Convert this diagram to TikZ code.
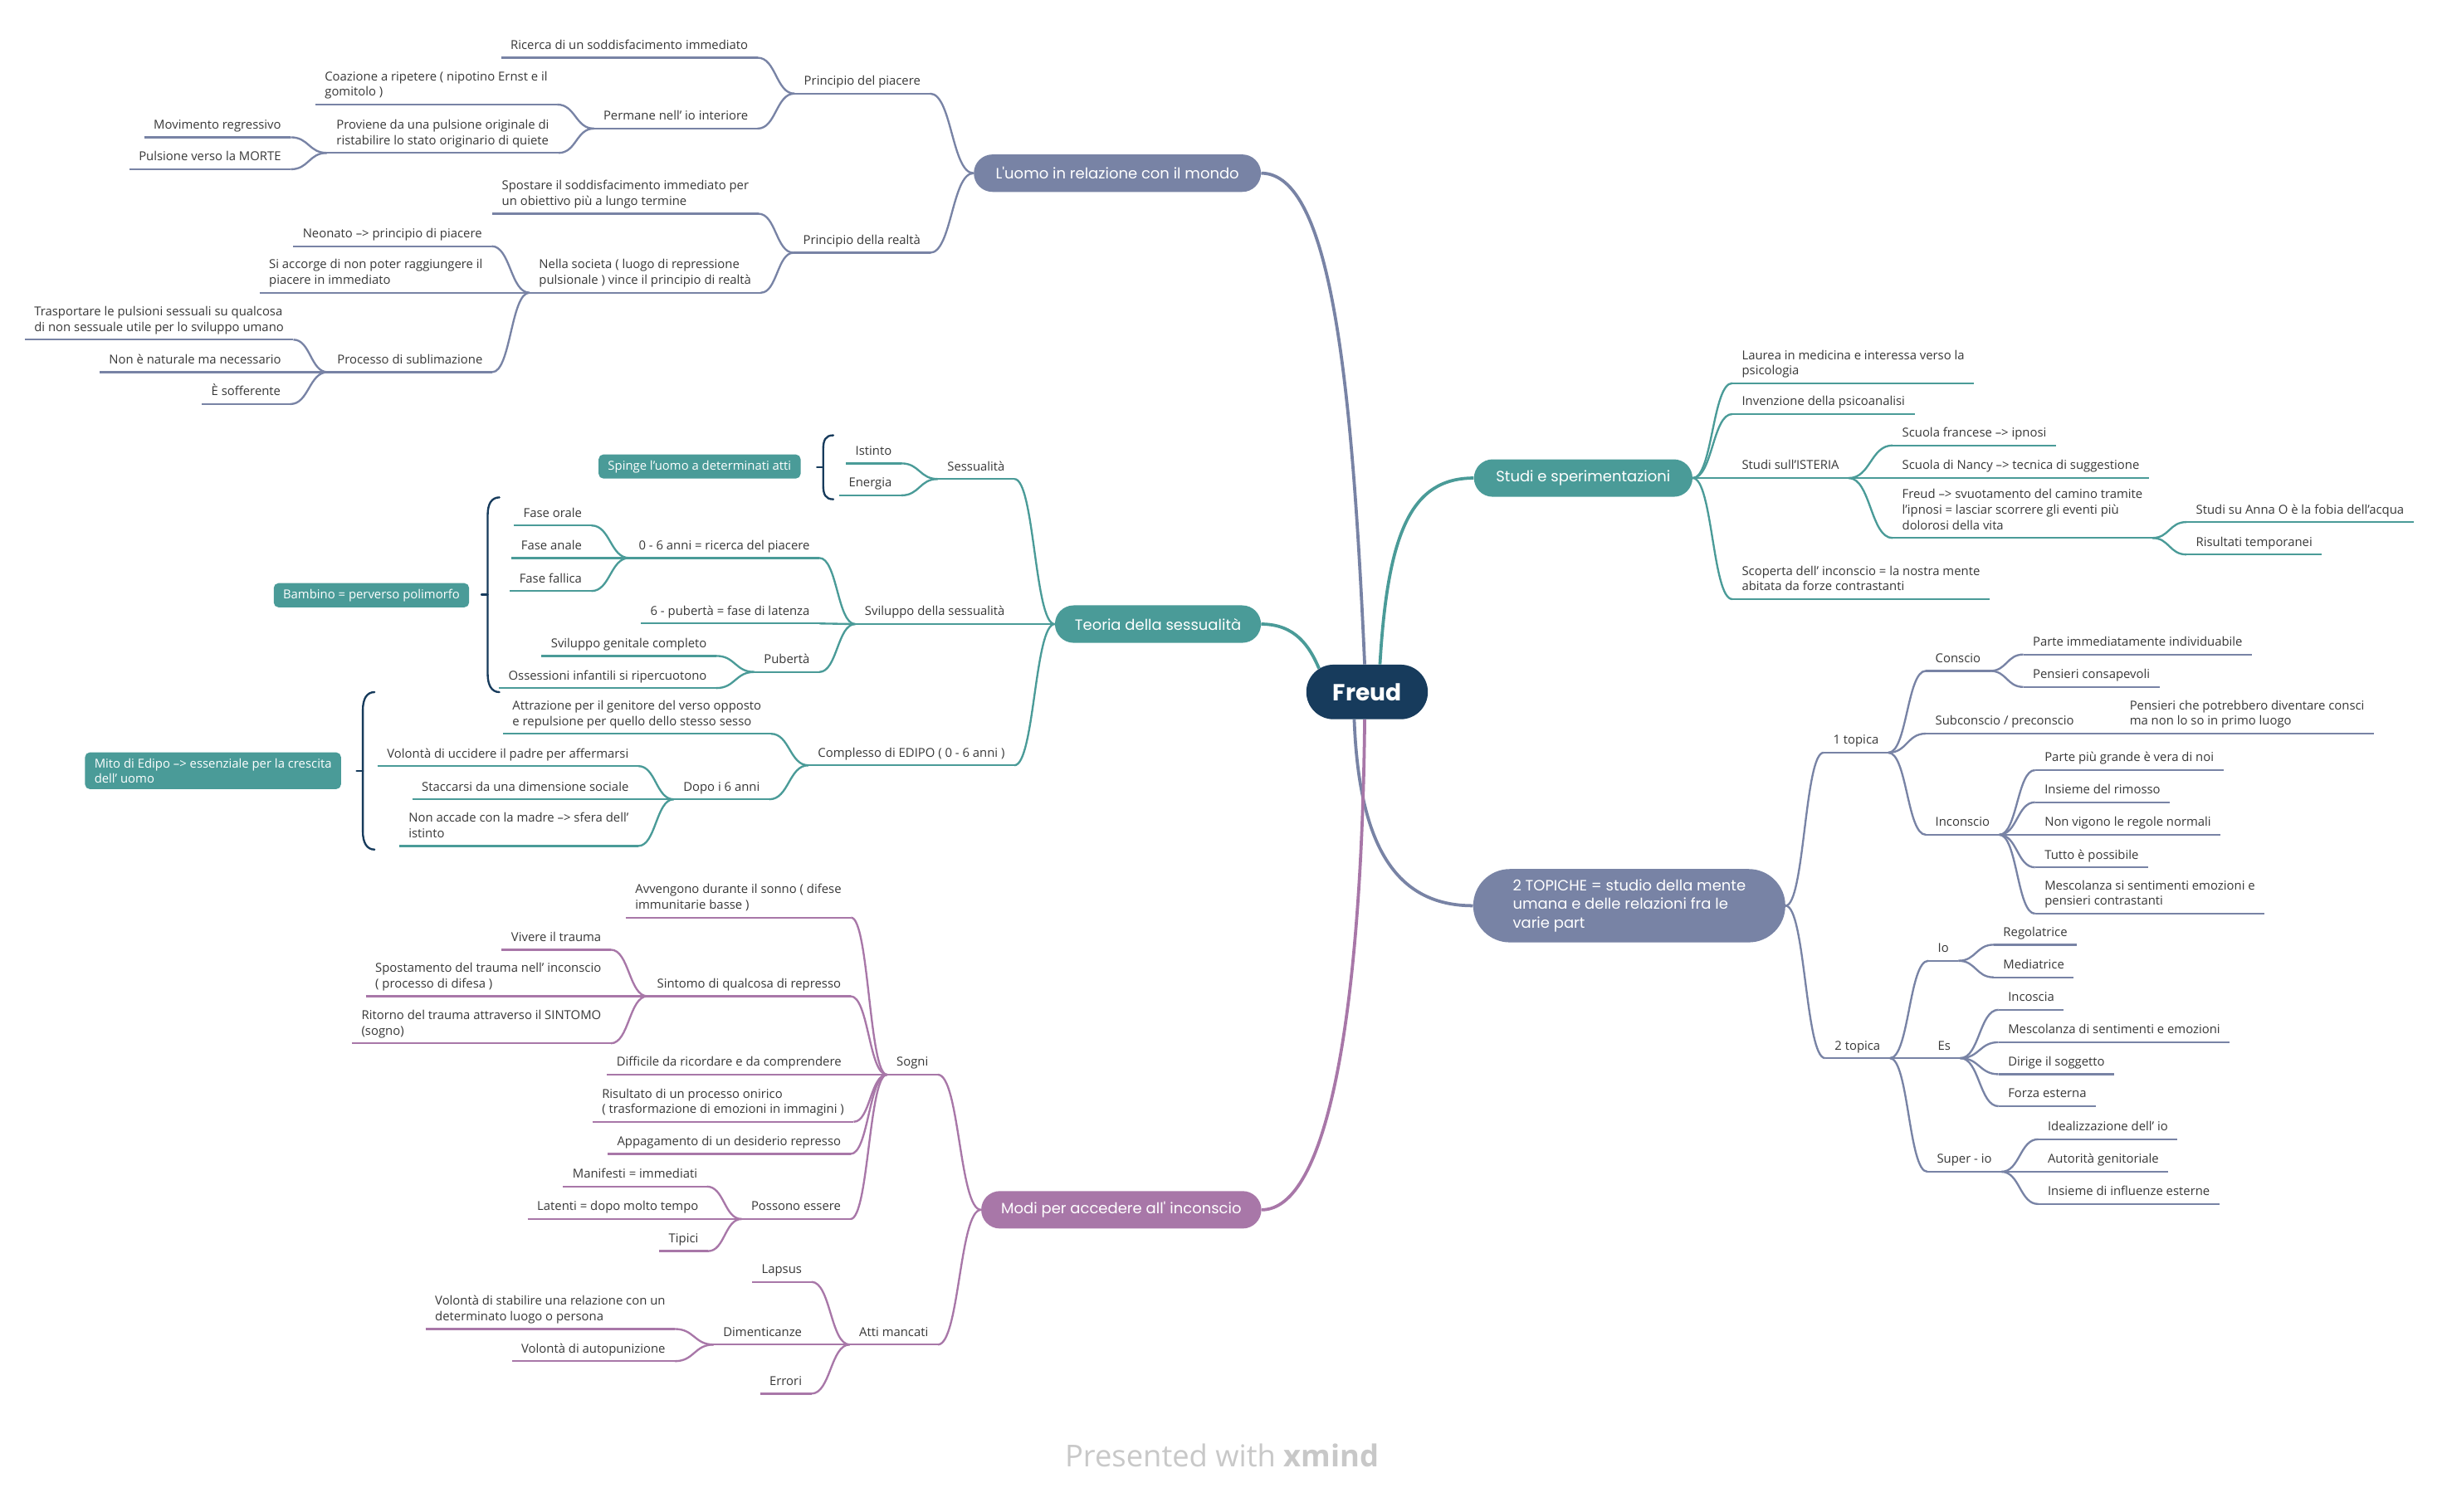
\documentclass[tikz,border=0pt]{standalone}
\usepackage{fontspec}
\setmainfont{Open Sans}
\newfontfamily\topicfamily{Poppins}
\usepackage{tikz}
\usetikzlibrary{calc}
\usetikzlibrary{shapes.misc}
\usetikzlibrary{positioning}

\definecolor{freudblue}{HTML}{173B5C}
\definecolor{greyblue}{HTML}{7883A5}
\definecolor{sea}{HTML}{4A9B98}
\definecolor{mauve}{HTML}{A877A8}
\definecolor{ink}{HTML}{383838}
\definecolor{stamp}{HTML}{C8C8C8}

\newcommand{\leaffont}{\fontsize{9}{11.3}\selectfont}
\newcommand{\topicfont}{\topicfamily\fontsize{10.9}{13.6}\selectfont}

\begin{document}
\begin{tikzpicture}
        [ x=0.4mm, y=-0.4mm
        , branch/.style={to path={let \p1=(\tikztostart), \p2=(\tikztotarget) in
              .. controls ({(\x1+\x2)/2},\y1) and ({(\x1+\x2)/2},\y2) .. (\tikztotarget)}}
        , leaf/.style={font=\leaffont, text=ink, align=left, inner xsep=2.4mm, inner ysep=3.7pt, text depth=2.2pt}
        , lleaf/.style={leaf, anchor=south east}
        , rleaf/.style={leaf, anchor=south west}
        , topic/.style={rounded rectangle, fill=#1, text=white, font=\topicfont, inner xsep=0pt, minimum height=9.6mm}
        , tagbox/.style={rectangle, rounded corners=1.2mm, fill=sea, text=white, font=\leaffont, align=left, inner xsep=2.4mm, inner ysep=1.5mm}
        , twig/.style={draw=#1, line width=0.5mm}
        , bough/.style={draw=#1, line width=0.8mm}
        , bracketline/.style={draw=freudblue, line width=0.5mm, line cap=round}
        ]
        \fill[white] (0,0) rectangle (1568,969);
        \useasboundingbox (0,0) rectangle (1568,969);

        \node[rounded rectangle, fill=freudblue, text=white, font=\topicfamily\bfseries\fontsize{17}{20}\selectfont, minimum width=33.5mm, minimum height=14mm] (freud) at (876,443.5) {Freud};
        \node[topic=greyblue, minimum width=73.6mm] (uomo) at (716,111) {L'uomo in relazione con il mondo};
        \node[topic=sea, minimum width=56mm] (studi) at (1014.5,306.4) {Studi e sperimentazioni};
        \node[topic=sea, minimum width=52.8mm] (teoria) at (742,400) {Teoria della sessualità};
        \node[topic=greyblue, minimum width=80mm, minimum height=18.8mm, align=left] (topiche) at (1044,580.5) {2 TOPICHE = studio della mente\\umana e delle relazioni fra le\\varie part};
        \node[topic=mauve, minimum width=71.8mm] (modi) at (718.5,775.4) {Modi per accedere all' inconscio};

        \draw[bough=greyblue] (uomo.east) .. controls +(45,0) and +(-8,-180) .. (freud.95);
        \draw[bough=sea] (teoria.east) .. controls +(22,0) and +(-6,-14) .. (freud.154);
        \draw[bough=sea] (freud.65) .. controls +(5,-85) and +(-40,0) .. (studi.west);
        \draw[bough=greyblue] (freud.245) .. controls +(3,80) and +(-50,0) .. (topiche.west);
        \draw[bough=mauve] (freud.265) .. controls +(-2,190) and +(42,0) .. (modi.east);

        \node[lleaf] (pp) at (596,60) {Principio del piacere};
        \node[lleaf] (ric) at (485.5,37) {Ricerca di un soddisfacimento immediato};
        \node[lleaf] (perm) at (485.5,82.4) {Permane nell' io interiore};
        \node[lleaf] (coaz) at (357,67) {Coazione a ripetere ( nipotino Ernst e il\\gomitolo )};
        \node[lleaf] (prov) at (358,98) {Proviene da una pulsione originale di\\ristabilire lo stato originario di quiete};
        \node[lleaf] (mov) at (186.3,88) {Movimento regressivo};
        \node[lleaf] (morte) at (186.3,108.5) {Pulsione verso la MORTE};
        \node[lleaf] (pr) at (596,162) {Principio della realtà};
        \node[lleaf] (spost) at (486,137) {Spostare il soddisfacimento immediato per\\un obiettivo più a lungo termine};
        \node[lleaf] (soc) at (487.5,187.6) {Nella societa ( luogo di repressione\\pulsionale ) vince il principio di realtà};
        \node[lleaf] (neo) at (315,157.8) {Neonato --> principio di piacere};
        \node[lleaf] (acc) at (315.4,187.6) {Si accorge di non poter raggiungere il\\piacere in immediato};
        \node[lleaf] (sub) at (315.4,238.5) {Processo di sublimazione};
        \node[lleaf] (tras) at (188,217.7) {Trasportare le pulsioni sessuali su qualcosa\\di non sessuale utile per lo sviluppo umano};
        \node[lleaf] (nat) at (186.3,238.5) {Non è naturale ma necessario};
        \node[lleaf] (soff) at (186,259) {È sofferente};

        \foreach \n in {pp,ric,perm,coaz,prov,mov,morte,pr,spost,soc,neo,acc,sub,tras,nat,soff}
            \draw[twig=greyblue] (\n.south west) -- (\n.south east);
        \draw[twig=greyblue] (uomo.west) to[branch] (pp.south east);
        \draw[twig=greyblue] (uomo.west) to[branch] (pr.south east);
        \foreach \a/\b in {pp/ric, pp/perm, perm/coaz, perm/prov, prov/mov, prov/morte,
                           pr/spost, pr/soc, soc/neo, soc/acc, soc/sub, sub/tras, sub/nat, sub/soff}
            \draw[twig=greyblue] (\a.south west) to[branch] (\b.south east);

        \node[lleaf] (sess) at (650,307) {Sessualità};
        \node[lleaf] (ist) at (577.6,297) {Istinto};
        \node[lleaf] (ener) at (577.6,317.5) {Energia};
        \node[lleaf] (svil) at (650,400) {Sviluppo della sessualità};
        \node[lleaf] (zero) at (525,357.6) {0 - 6 anni = ricerca del piacere};
        \node[lleaf] (orale) at (379,336.8) {Fase orale};
        \node[lleaf] (anale) at (379,357.6) {Fase anale};
        \node[lleaf] (fallica) at (379,378.8) {Fase fallica};
        \node[lleaf] (lat) at (525,399.6) {6 - pubertà = fase di latenza};
        \node[lleaf] (pub) at (525,430.7) {Pubertà};
        \node[lleaf] (gen) at (459,420.4) {Sviluppo genitale completo};
        \node[lleaf] (oss) at (459,441) {Ossessioni infantili si ripercuotono};
        \node[lleaf] (edipo) at (650,490.5) {Complesso di EDIPO ( 0 - 6 anni )};
        \node[lleaf] (attr) at (494,470.3) {Attrazione per il genitore del verso opposto\\e repulsione per quello dello stesso sesso};
        \node[lleaf] (dopo) at (493,512.3) {Dopo i 6 anni};
        \node[lleaf] (uccid) at (409,491) {Volontà di uccidere il padre per affermarsi};
        \node[lleaf] (stacc) at (409,512.3) {Staccarsi da una dimensione sociale};
        \node[lleaf] (madre) at (409,542.2) {Non accade con la madre --> sfera dell'\\istinto};

        \foreach \n in {sess,ist,ener,svil,zero,orale,anale,fallica,lat,pub,gen,oss,edipo,attr,dopo,uccid,stacc,madre}
            \draw[twig=sea] (\n.south west) -- (\n.south east);
        \foreach \b in {sess,svil,edipo}
            \draw[twig=sea] (teoria.west) to[branch] (\b.south east);
        \foreach \a/\b in {sess/ist, sess/ener, svil/zero, svil/lat, svil/pub, zero/orale, zero/anale, zero/fallica,
                           pub/gen, pub/oss, edipo/attr, edipo/dopo, dopo/uccid, dopo/stacc, dopo/madre}
            \draw[twig=sea] (\a.south west) to[branch] (\b.south east);

        \node[tagbox] (spinge) at (448.3,299) {Spinge l'uomo a determinati atti};
        \node[tagbox] (bambino) at (238,381.5) {Bambino = perverso polimorfo};
        \node[tagbox] (mito) at (136.5,494) {Mito di Edipo --> essenziale per la crescita\\dell' uomo};

        \draw[bracketline] (534,279) .. controls (529,279) and (527.5,282) .. (527.5,288)
            -- (527.5,311) .. controls (527.5,317) and (529,320) .. (534,320);
        \draw[bracketline] (527.5,299.5) -- (523.5,299.5);
        \draw[bracketline] (320,318.8) .. controls (315,318.8) and (312.5,323) .. (312.5,330)
            -- (312.5,432) .. controls (312.5,439) and (315,443.6) .. (320,443.6);
        \draw[bracketline] (312.5,381) -- (308.5,381);
        \draw[bracketline] (240,443.6) .. controls (235,443.6) and (232.5,448) .. (232.5,455)
            -- (232.5,533) .. controls (232.5,540) and (235,544.5) .. (240,544.5);
        \draw[bracketline] (232.5,494) -- (228.5,494);

        \node[rleaf] (laurea) at (1110,245.6) {Laurea in medicina e interessa verso la\\psicologia};
        \node[rleaf] (inv) at (1110,265.4) {Invenzione della psicoanalisi};
        \node[rleaf] (ist2) at (1110,306.4) {Studi sull'ISTERIA};
        \node[rleaf] (franc) at (1212.7,285.5) {Scuola francese --> ipnosi};
        \node[rleaf] (nancy) at (1212.7,306.4) {Scuola di Nancy --> tecnica di suggestione};
        \node[rleaf] (freudip) at (1212.7,344.8) {Freud --> svuotamento del camino tramite\\l'ipnosi = lasciar scorrere gli eventi più\\dolorosi della vita};
        \node[rleaf] (anna) at (1401,334.6) {Studi su Anna O è la fobia dell'acqua};
        \node[rleaf] (ris) at (1401,355.4) {Risultati temporanei};
        \node[rleaf] (scop) at (1110,384) {Scoperta dell' inconscio = la nostra mente\\abitata da forze contrastanti};

        \foreach \n in {laurea,inv,ist2,franc,nancy,freudip,anna,ris,scop}
            \draw[twig=sea] (\n.south west) -- (\n.south east);
        \foreach \b in {laurea,inv,ist2,scop}
            \draw[twig=sea] (studi.east) to[branch] (\b.south west);
        \foreach \a/\b in {ist2/franc, ist2/nancy, ist2/freudip, freudip/anna, freudip/ris}
            \draw[twig=sea] (\a.south east) to[branch] (\b.south west);

        \node[rleaf] (top1) at (1168.5,482.4) {1 topica};
        \node[rleaf] (conscio) at (1234,430) {Conscio};
        \node[rleaf] (parte) at (1296.5,419.5) {Parte immediatamente individuabile};
        \node[rleaf] (pens) at (1296.5,440.3) {Pensieri consapevoli};
        \node[rleaf] (subc) at (1234,470.2) {Subconscio / preconscio};
        \node[rleaf] (potr) at (1358.5,470.2) {Pensieri che potrebbero diventare consci\\ma non lo so in primo luogo};
        \node[rleaf] (incon) at (1234,535) {Inconscio};
        \node[rleaf] (grande) at (1304,493.6) {Parte più grande è vera di noi};
        \node[rleaf] (rim) at (1304,514.2) {Insieme del rimosso};
        \node[rleaf] (vig) at (1304,535) {Non vigono le regole normali};
        \node[rleaf] (tutto) at (1304,555.9) {Tutto è possibile};
        \node[rleaf] (mesc) at (1304,585.6) {Mescolanza si sentimenti emozioni e\\pensieri contrastanti};
        \node[rleaf] (top2) at (1169.5,678.2) {2 topica};
        \node[rleaf] (io) at (1235.6,615.8) {Io};
        \node[rleaf] (reg) at (1277.5,605.5) {Regolatrice};
        \node[rleaf] (med) at (1277.5,626.4) {Mediatrice};
        \node[rleaf] (es) at (1235.6,678.2) {Es};
        \node[rleaf] (inc) at (1280.6,647.2) {Incoscia};
        \node[rleaf] (mesc2) at (1280.6,668) {Mescolanza di sentimenti e emozioni};
        \node[rleaf] (dir) at (1280.6,688.5) {Dirige il soggetto};
        \node[rleaf] (forza) at (1280.6,709) {Forza esterna};
        \node[rleaf] (super) at (1235,751) {Super - io};
        \node[rleaf] (ideal) at (1306,730.2) {Idealizzazione dell' io};
        \node[rleaf] (aut) at (1306,751) {Autorità genitoriale};
        \node[rleaf] (infl) at (1306,771.7) {Insieme di influenze esterne};

        \foreach \n in {top1,conscio,parte,pens,subc,potr,incon,grande,rim,vig,tutto,mesc,
                        top2,io,reg,med,es,inc,mesc2,dir,forza,super,ideal,aut,infl}
            \draw[twig=greyblue] (\n.south west) -- (\n.south east);
        \foreach \b in {top1,top2}
            \draw[twig=greyblue] (topiche.east) to[branch] (\b.south west);
        \foreach \a/\b in {top1/conscio, top1/subc, top1/incon, conscio/parte, conscio/pens, subc/potr,
                           incon/grande, incon/rim, incon/vig, incon/tutto, incon/mesc,
                           top2/io, top2/es, top2/super, io/reg, io/med, es/inc, es/mesc2, es/dir, es/forza,
                           super/ideal, super/aut, super/infl}
            \draw[twig=greyblue] (\a.south east) to[branch] (\b.south west);

        \node[lleaf] (sogni) at (601,688.8) {Sogni};
        \node[lleaf] (avv) at (545.3,588.1) {Avvengono durante il sonno ( difese\\immunitarie basse )};
        \node[lleaf] (sint) at (545,638.5) {Sintomo di qualcosa di represso};
        \node[lleaf] (viv) at (391.4,608.7) {Vivere il trauma};
        \node[lleaf] (spos) at (391.4,638.5) {Spostamento del trauma nell' inconscio\\( processo di difesa )};
        \node[lleaf] (rit) at (391.4,668.7) {Ritorno del trauma attraverso il SINTOMO\\(sogno)};
        \node[lleaf] (diff) at (545.3,688.8) {Difficile da ricordare e da comprendere};
        \node[lleaf] (risul) at (547,719) {Risultato di un processo onirico\\( trasformazione di emozioni in immagini )};
        \node[lleaf] (appag) at (545,739.6) {Appagamento di un desiderio represso};
        \node[lleaf] (poss) at (545,781.3) {Possono essere};
        \node[lleaf] (manif) at (453,760.5) {Manifesti = immediati};
        \node[lleaf] (lat2) at (453.7,781.3) {Latenti = dopo molto tempo};
        \node[lleaf] (tipici) at (453.7,801.9) {Tipici};
        \node[lleaf] (atti) at (601,861.8) {Atti mancati};
        \node[lleaf] (lapsus) at (520,821.6) {Lapsus};
        \node[lleaf] (dim) at (520,861.8) {Dimenticanze};
        \node[lleaf] (stab) at (432.5,851.8) {Volontà di stabilire una relazione con un\\determinato luogo o persona};
        \node[lleaf] (autop) at (432.5,872.4) {Volontà di autopunizione};
        \node[lleaf] (errori) at (520,893.2) {Errori};

        \foreach \n in {sogni,avv,sint,viv,spos,rit,diff,risul,appag,poss,manif,lat2,tipici,atti,lapsus,dim,stab,autop,errori}
            \draw[twig=mauve] (\n.south west) -- (\n.south east);
        \foreach \b in {sogni,atti}
            \draw[twig=mauve] (modi.west) to[branch] (\b.south east);
        \foreach \a/\b in {sogni/avv, sogni/sint, sogni/diff, sogni/risul, sogni/appag, sogni/poss,
                           sint/viv, sint/spos, sint/rit, poss/manif, poss/lat2, poss/tipici,
                           atti/lapsus, atti/dim, atti/errori, dim/stab, dim/autop}
            \draw[twig=mauve] (\a.south west) to[branch] (\b.south east);

        \node[font=\fontsize{22}{26}\selectfont, text=stamp] (stamp) at (783,933) {Presented with \textbf{xmind}};
\end{tikzpicture}
\end{document}
